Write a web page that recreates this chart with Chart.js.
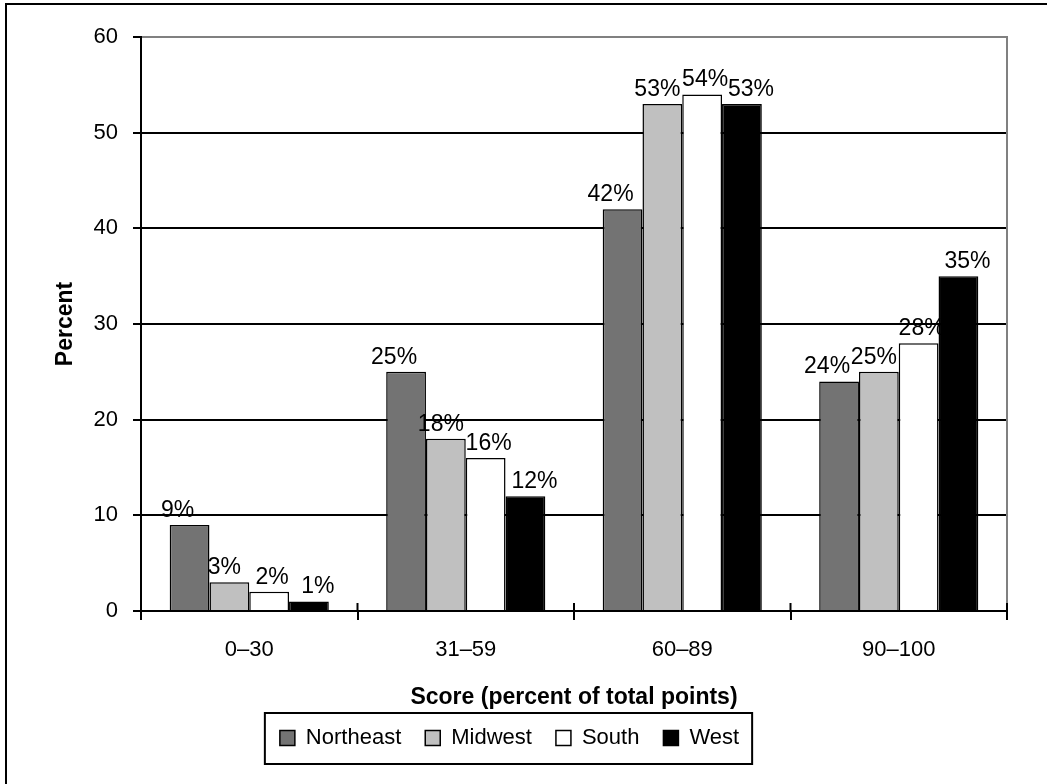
<!DOCTYPE html>
<html>
<head>
<meta charset="utf-8">
<script src="https://cdn.jsdelivr.net/npm/chart.js@4/dist/chart.umd.min.js"></script>
<style>
  html, body { margin: 0; padding: 0; background: #fff; }
  #wrap { width: 1047px; height: 784px; }
</style>
</head>
<body>
<div id="wrap"><canvas id="c" width="1047" height="784"></canvas></div>
<script>
// Score bands and the share of respondents in each region
const categories = ['0–30', '31–59', '60–89', '90–100'];
const northeast = [9, 25, 42, 24];
const midwest = [3, 18, 53, 25];
const south = [2, 16, 54, 28];
const west = [1, 12, 53, 35];
const regionNames = ['Northeast', 'Midwest', 'South', 'West'];
const yTicks = [0, 10, 20, 30, 40, 50, 60];

const FONT = '"Liberation Sans", Arial, Helvetica, sans-serif';

// Labels fan out a little so neighbouring percentages don't collide
const labelShift = [-12, -5, 3, 9];

// Percent labels above each bar
const valueLabels = {
  id: 'valueLabels',
  afterDatasetsDraw(chart) {
    const ctx = chart.ctx;
    ctx.save();
    ctx.font = '23px ' + FONT;
    ctx.fillStyle = '#000';
    ctx.textAlign = 'center';
    ctx.textBaseline = 'alphabetic';
    chart.data.datasets.forEach((ds, i) => {
      const meta = chart.getDatasetMeta(i);
      meta.data.forEach((bar, j) => {
        ctx.fillText(ds.data[j] + '%', bar.x + labelShift[i], bar.y - 8);
      });
    });
    ctx.restore();
  }
};

// Frame lines, right plot edge, inner category ticks and legend box outline
const decorations = {
  id: 'decorations',
  afterDraw(chart) {
    const ctx = chart.ctx;
    const area = chart.chartArea;
    const xs = chart.scales.x;
    ctx.save();
    // outer frame
    ctx.fillStyle = '#000';
    ctx.fillRect(5, 3, 2, 781);
    ctx.fillRect(5, 3, 1042, 2);
    // right edge of the plot
    ctx.strokeStyle = '#808080';
    ctx.lineWidth = 2;
    ctx.beginPath();
    ctx.moveTo(area.right, area.top - 1);
    ctx.lineTo(area.right, area.bottom - 8);
    ctx.stroke();
    // category boundary ticks reaching into the plot
    ctx.strokeStyle = '#000';
    const n = categories.length;
    const step = xs.getPixelForValue(1) - xs.getPixelForValue(0);
    for (let i = 1; i <= n; i++) {
      const px = xs.getPixelForValue(i - 1) + step / 2;
      ctx.beginPath();
      ctx.moveTo(px, area.bottom - 8);
      ctx.lineTo(px, area.bottom);
      ctx.stroke();
    }
    // legend outline
    const boxes = chart.legend.legendHitBoxes;
    if (boxes && boxes.length) {
      const first = boxes[0];
      const last = boxes[boxes.length - 1];
      const l = first.left - 15;
      const r = last.left + last.width + 13;
      const t = first.top - 14;
      const b = first.top + first.height + 15;
      ctx.lineWidth = 2;
      ctx.strokeRect(l, t, r - l, b - t);
    }
    ctx.restore();
  }
};

const colors = ['#737373', '#c0c0c0', '#ffffff', '#000000'];
const series = [northeast, midwest, south, west];

new Chart(document.getElementById('c'), {
  type: 'bar',
  data: {
    labels: categories,
    datasets: series.map((d, i) => ({
      label: regionNames[i],
      data: d,
      backgroundColor: colors[i],
      borderColor: '#000',
      borderWidth: 1.5,
      categoryPercentage: 0.735,
      barPercentage: 1.0
    }))
  },
  options: {
    responsive: false,
    animation: false,
    devicePixelRatio: 1,
    layout: { padding: { left: 12, right: 40, top: 37, bottom: 25 } },
    plugins: {
      legend: {
        position: 'bottom',
        labels: {
          font: { family: FONT, size: 22 },
          color: '#000',
          boxWidth: 15,
          boxHeight: 15,
          padding: 24
        }
      },
      tooltip: { enabled: false },
      title: { display: false }
    },
    scales: {
      x: {
        offset: true,
        grid: {
          display: true,
          drawOnChartArea: false,
          offset: true,
          tickLength: 9,
          tickColor: '#000',
          lineWidth: 2
        },
        border: { display: true, color: '#000', width: 2 },
        ticks: {
          font: { family: FONT, size: 22 },
          color: '#000',
          padding: 17,
          maxRotation: 0
        },
        title: {
          display: true,
          text: 'Score (percent of total points)',
          font: { family: FONT, size: 23, weight: 'bold' },
          color: '#000',
          padding: { top: 0, bottom: -8 }
        },
        afterFit(scale) { scale.height = 92; }
      },
      y: {
        min: 0,
        max: 60,
        afterBuildTicks(scale) { scale.ticks = yTicks.map(v => ({ value: v })); },
        grid: {
          color: ctx => (ctx.tick && ctx.tick.value === 60 ? '#808080' : '#000'),
          tickColor: '#000',
          lineWidth: 2,
          tickLength: 8
        },
        border: { display: true, color: '#000', width: 2 },
        ticks: {
          font: { family: FONT, size: 22 },
          color: '#000',
          padding: 15
        },
        title: {
          display: true,
          text: 'Percent',
          font: { family: FONT, size: 23, weight: 'bold' },
          color: '#000',
          padding: { top: 40, bottom: 0 }
        },
        afterFit(scale) { scale.width = 129; }
      }
    }
  },
  plugins: [valueLabels, decorations]
});
</script>
</body>
</html>
